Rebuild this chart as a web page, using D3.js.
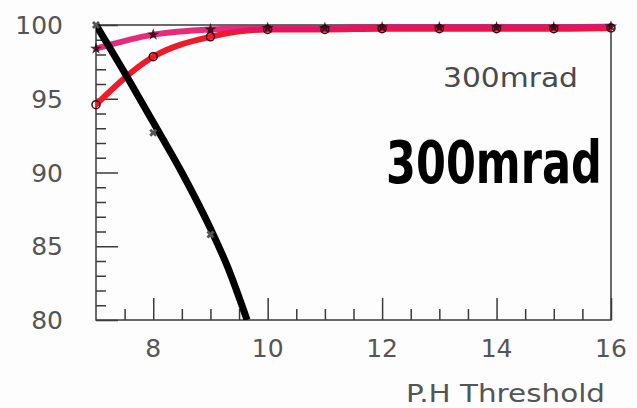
<!DOCTYPE html>
<html>
<head>
<meta charset="utf-8">
<script src="https://cdn.jsdelivr.net/npm/d3@7/dist/d3.min.js"></script>
<style>
  html, body { margin: 0; padding: 0; background: #fdfdfd; }
  svg { display: block; }
  text { font-family: "DejaVu Sans", "Liberation Sans", sans-serif; }
</style>
</head>
<body>
<svg id="chart" width="637" height="408"></svg>
<script>
// Threshold scan values (P.H threshold vs efficiency, %)
const thresholds = [7, 8, 9, 10, 11, 12, 13, 14, 15, 16];
const effStar   = [98.4, 99.35, 99.7, 99.8, 99.8, 99.85, 99.85, 99.85, 99.85, 99.9];
const effCircle = [94.6, 97.85, 99.2, 99.7, 99.7, 99.75, 99.75, 99.75, 99.75, 99.8];
const blackX    = [7, 8, 9];
const blackY    = [100, 92.7, 85.8];
// fitted curve through the black points
const fitX = [7.0, 7.57, 8.0, 8.5, 9.0, 9.3, 9.64];
const fitY = [100, 96.3, 93.4, 90.0, 86.2, 83.6, 80.0];
const xTickMajor = [8, 10, 12, 14, 16];
const yTickMajor = [80, 85, 90, 95, 100];

const svg = d3.select("#chart");
const x = d3.scaleLinear().domain([7, 16]).range([96, 611]);
const y = d3.scaleLinear().domain([80, 100]).range([320, 25]);
const axisCol = "#3a3a3a";
const labelCol = "#555";

svg.append("defs").append("clipPath").attr("id", "clip")
  .append("rect").attr("x", x(7)).attr("y", 18).attr("width", x(16) - x(7)).attr("height", y(80) - 18);

// frame
svg.append("rect")
  .attr("x", x(7)).attr("y", y(100))
  .attr("width", x(16) - x(7)).attr("height", y(80) - y(100))
  .attr("fill", "none").attr("stroke", axisCol).attr("stroke-width", 1.5);

// x ticks: minor every 0.5, major every 2
const xMinor = d3.range(7.5, 16, 0.5).filter(v => !xTickMajor.includes(v));
const xAxisMinor = d3.axisBottom(x).tickValues(xMinor).tickSize(-11).tickFormat("");
const xAxisMajor = d3.axisBottom(x).tickValues(xTickMajor).tickSize(-22).tickFormat("");
[xAxisMinor, xAxisMajor].forEach(ax => {
  const g = svg.append("g").attr("transform", `translate(0,${y(80)})`).call(ax);
  g.select(".domain").remove();
  g.selectAll("line").attr("stroke", axisCol).attr("stroke-width", 1.5);
});

// y ticks: minor every 1, major every 5
const yMinor = d3.range(81, 100, 1).filter(v => !yTickMajor.includes(v));
const yAxisMinor = d3.axisLeft(y).tickValues(yMinor).tickSize(-10).tickFormat("");
const yAxisMajor = d3.axisLeft(y).tickValues(yTickMajor).tickSize(-22).tickFormat("");
[yAxisMinor, yAxisMajor].forEach(ax => {
  const g = svg.append("g").attr("transform", `translate(${x(7)},0)`).call(ax);
  g.select(".domain").remove();
  g.selectAll("line").attr("stroke", axisCol).attr("stroke-width", 1.5);
});

// tick labels
svg.append("g").selectAll("text").data(yTickMajor).join("text")
  .attr("x", 63).attr("y", d => y(d) + 9)
  .attr("text-anchor", "end").attr("font-size", 25).attr("fill", labelCol)
  .text(d => d);
svg.append("g").selectAll("text").data(xTickMajor).join("text")
  .attr("x", d => x(d)).attr("y", 357)
  .attr("text-anchor", "middle").attr("font-size", 25).attr("fill", labelCol)
  .text(d => d);
svg.append("text")
  .attr("x", 406).attr("y", 402)
  .attr("font-size", 25).attr("fill", labelCol)
  .attr("textLength", 199).attr("lengthAdjust", "spacingAndGlyphs")
  .text("P.H Threshold");

// curves
const lines = svg.append("g").attr("clip-path", "url(#clip)");
const lineGen = d3.line().x(d => x(d[0])).y(d => y(d[1])).curve(d3.curveMonotoneX);

lines.append("path")
  .datum(thresholds.map((t, i) => [t, effCircle[i]]))
  .attr("d", lineGen)
  .attr("fill", "none").attr("stroke", "#ee1a2a").attr("stroke-width", 6)
  .attr("stroke-linecap", "round");
lines.append("path")
  .datum(thresholds.map((t, i) => [t, effStar[i]]))
  .attr("d", lineGen)
  .attr("fill", "none").attr("stroke", "#e2146a").attr("stroke-width", 6)
  .attr("stroke-linecap", "round").attr("opacity", 0.9);
lines.append("path")
  .datum(fitX.map((v, i) => [v, fitY[i]]))
  .attr("d", lineGen)
  .attr("fill", "none").attr("stroke", "#000").attr("stroke-width", 7)
  .attr("stroke-linecap", "butt");

// markers
const mk = svg.append("g");
mk.selectAll("circle.c").data(thresholds.map((t, i) => [t, effCircle[i]])).join("circle")
  .attr("class", "c")
  .attr("cx", d => x(d[0])).attr("cy", d => y(d[1])).attr("r", 4)
  .attr("fill", "none").attr("stroke", "#3a0a10").attr("stroke-width", 1.5);
const star = d3.symbol().type(d3.symbolStar).size(45);
mk.selectAll("path.s").data(thresholds.map((t, i) => [t, effStar[i]])).join("path")
  .attr("class", "s")
  .attr("transform", d => `translate(${x(d[0])},${y(d[1])})`)
  .attr("d", star).attr("fill", "#2a0510").attr("opacity", 0.85);
const cross = d3.symbol().type(d3.symbolCross).size(40);
mk.selectAll("path.x").data(blackX.map((t, i) => [t, blackY[i]])).join("path")
  .attr("class", "x")
  .attr("transform", d => `translate(${x(d[0])},${y(d[1])}) rotate(45)`)
  .attr("d", cross).attr("fill", "#555");

// labels inside plot
svg.append("text")
  .attr("x", 443).attr("y", 87)
  .attr("font-size", 26).attr("fill", "#4a4a4a")
  .attr("textLength", 135).attr("lengthAdjust", "spacingAndGlyphs")
  .text("300mrad");
// large hand-lettered note, stretched vertically
svg.append("text")
  .attr("transform", "translate(386,183) scale(1.05,1.45)")
  .attr("font-size", 41).attr("font-weight", "bold").attr("fill", "#000")
  .text("300mrad");
</script>
</body>
</html>
